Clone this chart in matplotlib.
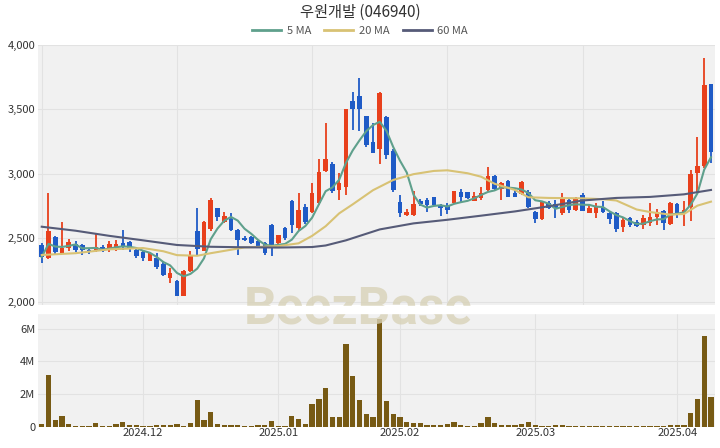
import numpy as np
import pandas as pd
import matplotlib
matplotlib.use("Agg")
from matplotlib import pyplot as plt
from matplotlib.lines import Line2D
from matplotlib.patches import Rectangle

plt.rcParams['font.family'] = ['Noto Sans CJK KR', 'DejaVu Sans']

title = "우원개발 (046940)"

# daily OHLC (KRW), Nov 11 2024 .. Apr 8 2025
opens = [2445, 2340, 2505, 2385, 2420, 2455, 2440, 2405, 2400, 2430,
         2405, 2420, 2457, 2465, 2405, 2392, 2322, 2340, 2295, 2185,
         2160, 2050, 2245, 2555, 2400, 2566, 2730, 2625, 2645, 2560,
         2497, 2503, 2475, 2462, 2600, 2462, 2573, 2790, 2573, 2742,
         2703, 2768, 3019, 3071, 2872, 2898, 3567, 3603, 3447, 3248,
         3188, 3442, 3178, 2776, 2677, 2677, 2789, 2794, 2815, 2755,
         2750, 2768, 2858, 2858, 2788, 2807, 2872, 2983, 2877, 2942,
         2846, 2838, 2854, 2703, 2646, 2773, 2760, 2690, 2794, 2716,
         2833, 2695, 2695, 2742, 2690, 2695, 2586, 2656, 2620, 2599,
         2612, 2659, 2711, 2607, 2763, 2685, 2742, 3006, 3060, 3697]
highs = [2460, 2850, 2515, 2625, 2490, 2475, 2455, 2420, 2540, 2440,
         2475, 2485, 2560, 2475, 2420, 2405, 2385, 2380, 2320, 2265,
         2175, 2250, 2400, 2730, 2630, 2812, 2735, 2703, 2690, 2565,
         2515, 2515, 2485, 2470, 2605, 2525, 2580, 2795, 2846, 2760,
         2924, 3110, 3395, 3092, 3002, 3505, 3632, 3741, 3450, 3390,
         3635, 3450, 3190, 2833, 2720, 2866, 2800, 2810, 2820, 2765,
         2770, 2866, 2877, 2860, 2858, 2892, 3048, 2990, 2935, 2950,
         2880, 2940, 2870, 2710, 2780, 2790, 2794, 2846, 2800, 2820,
         2851, 2760, 2768, 2790, 2700, 2700, 2659, 2665, 2640, 2675,
         2768, 2720, 2715, 2775, 2770, 2788, 3027, 3282, 3896, 3700]
lows = [2305, 2335, 2375, 2380, 2400, 2390, 2365, 2375, 2392, 2392,
        2392, 2397, 2405, 2392, 2340, 2322, 2318, 2260, 2200, 2148,
        2045, 2048, 2235, 2365, 2395, 2555, 2633, 2612, 2555, 2366,
        2475, 2452, 2420, 2366, 2355, 2440, 2480, 2535, 2560, 2610,
        2690, 2755, 3010, 2846, 2794, 2833, 3339, 3333, 3204, 3157,
        3074, 3110, 2860, 2659, 2670, 2672, 2745, 2703, 2745, 2669,
        2685, 2760, 2781, 2800, 2785, 2794, 2865, 2870, 2794, 2815,
        2815, 2830, 2735, 2617, 2640, 2720, 2651, 2677, 2690, 2710,
        2705, 2690, 2651, 2690, 2610, 2547, 2547, 2580, 2580, 2572,
        2590, 2600, 2560, 2600, 2650, 2591, 2633, 2858, 3040, 3084]
closes = [2350, 2555, 2390, 2420, 2470, 2405, 2405, 2395, 2430, 2400,
          2450, 2455, 2432, 2410, 2355, 2342, 2378, 2270, 2210, 2225,
          2050, 2245, 2365, 2415, 2625, 2795, 2660, 2670, 2560, 2482,
          2480, 2462, 2432, 2380, 2432, 2520, 2497, 2600, 2716, 2625,
          2846, 3014, 3110, 2864, 2924, 3500, 3500, 3500, 3222, 3162,
          3629, 3144, 2872, 2690, 2703, 2763, 2763, 2755, 2755, 2729,
          2715, 2866, 2820, 2807, 2827, 2846, 2983, 2880, 2924, 2820,
          2820, 2932, 2742, 2646, 2776, 2729, 2735, 2812, 2716, 2812,
          2711, 2729, 2742, 2703, 2643, 2566, 2638, 2599, 2591, 2656,
          2664, 2703, 2612, 2768, 2690, 2716, 2996, 3061, 3689, 3170]
# volume, millions of shares
volumes = [0.21, 3.18, 0.45, 0.70, 0.19, 0.08, 0.08, 0.04, 0.27, 0.03,
           0.03, 0.16, 0.30, 0.12, 0.10, 0.04, 0.03, 0.14, 0.14, 0.10,
           0.17, 0.08, 0.22, 1.64, 0.41, 0.92, 0.20, 0.10, 0.14, 0.14,
           0.08, 0.08, 0.12, 0.12, 0.37, 0.04, 0.04, 0.66, 0.51, 0.20,
           1.40, 1.68, 2.40, 0.62, 0.58, 5.07, 3.12, 1.64, 0.78, 0.58,
           6.60, 1.58, 0.82, 0.58, 0.31, 0.23, 0.25, 0.14, 0.14, 0.14,
           0.17, 0.29, 0.10, 0.08, 0.08, 0.27, 0.58, 0.23, 0.10, 0.10,
           0.14, 0.17, 0.29, 0.10, 0.06, 0.04, 0.14, 0.14, 0.06, 0.03,
           0.03, 0.04, 0.08, 0.03, 0.08, 0.08, 0.03, 0.03, 0.03, 0.08,
           0.08, 0.08, 0.06, 0.14, 0.12, 0.10, 0.86, 1.70, 5.54, 1.81]

# 20 / 60 day averages (need history before the window)
ma20_idx = [0, 5, 10, 15, 18, 20, 23, 25, 30, 35, 38, 40, 42, 44, 46, 49,
            52, 55, 58, 60, 63, 65, 67, 70, 72, 75, 80, 83, 85, 88, 90, 93,
            95, 97, 99]
ma20_val = [2366, 2380, 2410, 2420, 2395, 2365, 2360, 2380, 2425, 2435,
            2457, 2515, 2590, 2690, 2760, 2870, 2950, 2995, 3020, 3025,
            3002, 2975, 2920, 2872, 2815, 2810, 2807, 2800, 2790, 2720,
            2700, 2680, 2685, 2750, 2781]
ma60_idx = [0, 5, 10, 15, 20, 25, 30, 35, 40, 42, 45, 50, 55, 60, 65, 70,
            75, 80, 85, 90, 95, 99]
ma60_val = [2586, 2555, 2515, 2480, 2444, 2430, 2426, 2424, 2428, 2440,
            2480, 2565, 2612, 2640, 2672, 2705, 2745, 2790, 2810, 2818,
            2838, 2872]

month_pos = [15, 35, 53, 73, 94]
month_labels = ["2024.12", "2025.01", "2025.02", "2025.03", "2025.04"]

UP = "#e8401c"
DOWN = "#1f5bc6"
BG = "#f1f1f1"
GRID = "#e2e2e2"

o = np.array(opens); h = np.array(highs); l = np.array(lows); c = np.array(closes)
x = np.arange(len(o))
colors = np.where(c >= o, UP, DOWN)
ma5 = pd.Series(c).rolling(5, min_periods=1).mean()

fig = plt.figure(figsize=(7.2, 4.48), dpi=100)
ax = fig.add_axes([0.0528, 0.3192, 0.9403, 0.5804])
axv = fig.add_axes([0.0528, 0.0469, 0.9403, 0.2545])

for a in (ax, axv):
    a.set_facecolor(BG)
    for s in a.spines.values():
        s.set_visible(False)
    a.tick_params(length=0, labelsize=8, colors="#333333")
    a.set_xlim(-0.55, 99.6)
    a.set_axisbelow(True)
    a.grid(True, color=GRID, linewidth=0.8)

# price panel
ax.vlines(x, l, h, colors=colors, linewidth=1.3, zorder=2)
body = np.maximum(np.abs(c - o), 8)
ax.bar(x, body, bottom=np.minimum(o, c), width=0.68, color=colors, zorder=3)
ax.plot(x, ma5, color="#5fa08c", linewidth=1.5, zorder=4)
ax.plot(ma20_idx, ma20_val, color="#d8c274", linewidth=1.5, zorder=4)
ax.plot(ma60_idx, ma60_val, color="#565b78", linewidth=1.5, zorder=4)
ax.set_ylim(1977, 4000)
ax.set_yticks([2000, 2500, 3000, 3500, 4000])
ax.set_yticklabels(["2,000", "2,500", "3,000", "3,500", "4,000"])
ax.set_xticks([0, 20, 40, 60, 80])
ax.set_xticklabels([])
ax.tick_params(axis="y", pad=2)

# volume panel
axv.bar(x, volumes, width=0.78, color="#775a14", zorder=3)
axv.set_ylim(0, 6.95)
axv.set_yticks([0, 2, 4, 6])
axv.set_yticklabels(["0", "2M", "4M", "6M"])
axv.set_xticks(month_pos)
axv.set_xticklabels(month_labels)
axv.tick_params(axis="x", pad=1)
axv.tick_params(axis="y", pad=2)

# watermark
fig.text(0.497, 0.31, "BeezBase", ha="center", va="center", fontsize=37,
         fontweight="bold", family=["Roboto", "DejaVu Sans"],
         color="#d8d2b8", alpha=0.8, zorder=5)
fig.patches.append(Rectangle((0.05, 0.3192 - 0.0175), 0.95, 0.015,
                             transform=fig.transFigure, color="white",
                             zorder=6))

fig.text(0.5, 0.972, title, ha="center", va="center", fontsize=11,
         color="#333333")
handles = [Line2D([], [], color="#5fa08c", linewidth=2),
           Line2D([], [], color="#d8c274", linewidth=2),
           Line2D([], [], color="#565b78", linewidth=2)]
fig.legend(handles, ["5 MA", "20 MA", "60 MA"], loc="center",
           bbox_to_anchor=(0.5, 0.93), ncol=3, frameon=False, fontsize=8,
           handlelength=2.6, columnspacing=1.2, handletextpad=0.5,
           labelcolor="#555555")

fig.savefig("out.png", dpi=100)
